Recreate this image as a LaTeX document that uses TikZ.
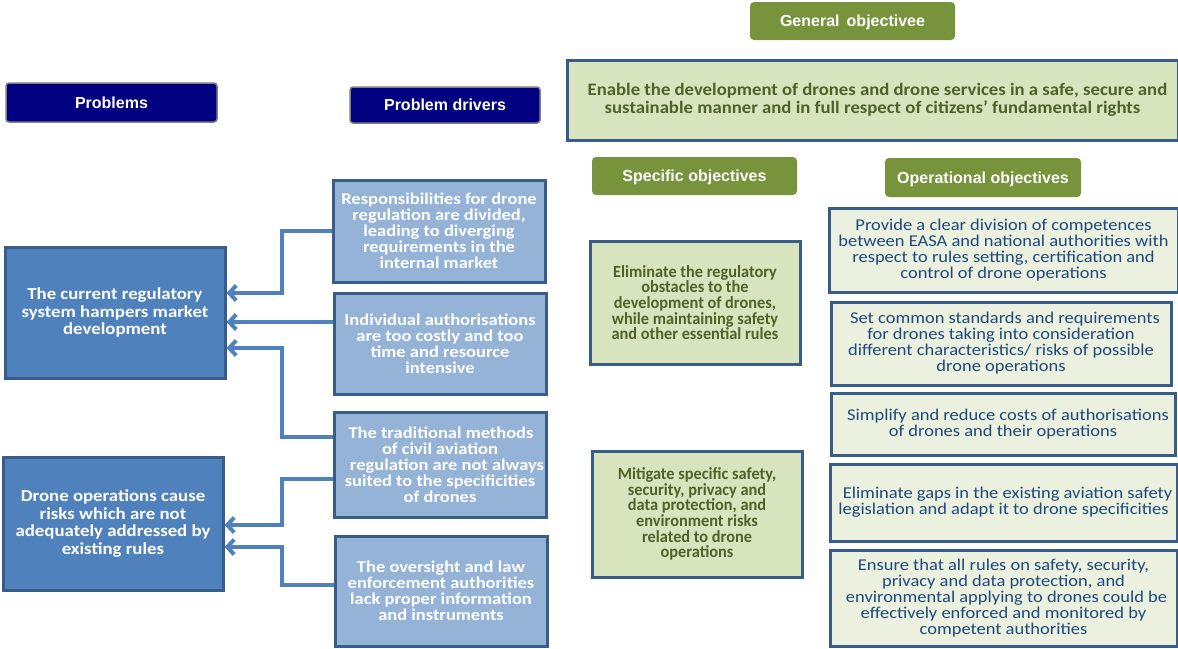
\documentclass[tikz,border=0pt]{standalone}
\usepackage{fontspec}
\setmainfont{Carlito}
\newfontfamily\widef[FakeStretch=1.12]{Carlito}
\newfontfamily\midf[FakeStretch=1.07]{Carlito}
\newfontfamily\narrowf[FakeStretch=0.96]{Carlito}
\newfontfamily\arialf{Liberation Sans}
\usetikzlibrary{arrows.meta}
\definecolor{navyc}{HTML}{000080}
\definecolor{hdrgray}{HTML}{808080}
\definecolor{oliveh}{HTML}{77933C}
\definecolor{gofill}{HTML}{D7E4BD}
\definecolor{gotext}{HTML}{4F6228}
\definecolor{bord}{HTML}{385D8A}
\definecolor{pfill}{HTML}{4F81BD}
\definecolor{dfill}{HTML}{95B3D7}
\definecolor{ofill}{HTML}{EBF1DE}
\definecolor{otext}{HTML}{1F497D}
\tikzset{
  hdrnavy/.style={draw=hdrgray, line width=1.5pt, fill=navyc, rounded corners=3pt, text=white, font=\arialf\bfseries\fontsize{16}{16}\selectfont, inner sep=0pt, text height=11.5pt, text depth=0pt},
  hdrgreen/.style={fill=oliveh, rounded corners=4pt, text=white, font=\arialf\bfseries\fontsize{16}{16}\selectfont, inner sep=0pt, text height=11.5pt, text depth=0pt},
  probbox/.style={draw=bord, line width=3pt, fill=pfill, text=white, align=center, font=\widef\bfseries\fontsize{16.8}{17.5}\selectfont, inner sep=0pt},
  drvbox/.style={draw=bord, line width=3pt, fill=dfill, text=white, align=center, font=\widef\bfseries\fontsize{16.5}{16}\selectfont, inner sep=0pt},
  specbox/.style={draw=bord, line width=3pt, fill=gofill, text=gotext, align=center, font=\narrowf\bfseries\fontsize{17}{15.6}\selectfont, inner sep=0pt},
  opbox/.style={draw=bord, line width=3pt, fill=ofill, text=otext, align=center, font=\widef\fontsize{16.5}{16}\selectfont, inner sep=0pt},
  conn/.style={draw=pfill, line width=4pt, {Straight Barb[length=7pt,width=15pt]}-, line join=miter},
}
\begin{document}
\begin{tikzpicture}[x=1pt,y=-1pt]
\useasboundingbox (0,0) rectangle (1178,648);
\begin{scope}
\clip (0,0) rectangle (1178,648);
% headers
\node[hdrnavy, minimum width=211, minimum height=39] (hprob) at (111.5,102.5) {Problems};
\node[hdrnavy, minimum width=190, minimum height=36] (hdrv) at (445,105) {Problem drivers};
\node[hdrgreen, minimum width=205, minimum height=38] (hgen) at (852.5,21) {General\, objectivee};
\node[hdrgreen, minimum width=205, minimum height=38] (hspec) at (694.5,176) {Specific objectives};
\node[hdrgreen, minimum width=196, minimum height=39] (hop) at (983,177.5) {Operational objectives};
% general objective
\node[specbox, font=\midf\bfseries\fontsize{17.5}{18}\selectfont, minimum width=611, minimum height=80] (gen) at (872.5,100)
  {\hspace*{10pt}Enable the development of drones and drone services in a safe, secure and\\sustainable manner and in full respect of citizens’ fundamental rights};
% problems
\node[probbox, minimum width=220, minimum height=131] (p1) at (115,312.5) {The current regulatory\\system hampers market\\development};
\node[probbox, minimum width=220, minimum height=133] (p2) at (113,523.5) {Drone operations cause\\risks which are not\\adequately addressed by\\existing rules};
% drivers
\node[drvbox, minimum width=212, minimum height=102] (d1) at (439,231) {Responsibilities for drone\\regulation are divided,\\leading to diverging\\requirements in the\\internal market};
\node[drvbox, minimum width=212, minimum height=101] (d2) at (440,343.5) {Individual authorisations\\are too costly and too\\time and resource\\intensive};
\node[drvbox, minimum width=212, minimum height=105] (d3) at (440,464.5) {\hspace*{2pt}The traditional methods\\of civil aviation\\\hspace*{14pt}regulation are not always\\suited to the specificities\\of drones};
\node[drvbox, minimum width=212, minimum height=110] (d4) at (441,591) {The oversight and law\\enforcement authorities\\lack proper information\\and instruments};
% specific objectives
\node[specbox, minimum width=210, minimum height=123] (s1) at (695,302.5) {Eliminate the regulatory\\obstacles to the\\development of drones,\\while maintaining safety\\and other essential rules};
\node[specbox, minimum width=210, minimum height=126] (s2) at (697,514) {Mitigate specific safety,\\security, privacy and\\data protection, and\\environment risks\\related to drone\\operations};
% operational objectives
\node[opbox, minimum width=349, minimum height=84] (o1) at (1003.5,250) {Provide a clear division of competences\\between EASA and national authorities with\\respect to rules setting, certification and\\control of drone operations};
\node[opbox, minimum width=340, minimum height=83] (o2) at (1001,343.5) {\hspace*{8pt}Set common standards and requirements\\for drones taking into consideration\\different characteristics/ risks of possible\\drone operations};
\node[opbox, minimum width=344, minimum height=62] (o3) at (1003,424) {\hspace*{10pt}Simplify and reduce costs of authorisations\\of drones and their operations};
\node[opbox, minimum width=347, minimum height=77] (o4) at (1003.5,502.5) {\hspace*{8pt}Eliminate gaps in the existing aviation safety\\legislation and adapt it to drone specificities};
\node[opbox, minimum width=347, minimum height=96] (o5) at (1003.5,598) {Ensure that all rules on safety, security,\\privacy and data protection, and\\\hspace*{6pt}environmental applying to drones could be\\effectively enforced and monitored by\\competent authorities};
% connectors
\draw[conn] ([yshift=19.5pt]p1.east) -- ++(55,0) |- (d1.west);
\draw[conn] ([yshift=-9.5pt]p1.east) -- ([yshift=21.5pt]d2.west);
\draw[conn] ([yshift=-35.5pt]p1.east) -- ++(55,0) |- ([yshift=27.5pt]d3.west);
\draw[conn] ([yshift=-1.5pt]p2.east) -- ++(57,0) |- ([yshift=-14.5pt]d3.west);
\draw[conn] ([yshift=-23.5pt]p2.east) -- ++(57,0) |- ([yshift=6pt]d4.west);
\end{scope}
\end{tikzpicture}
\end{document}
